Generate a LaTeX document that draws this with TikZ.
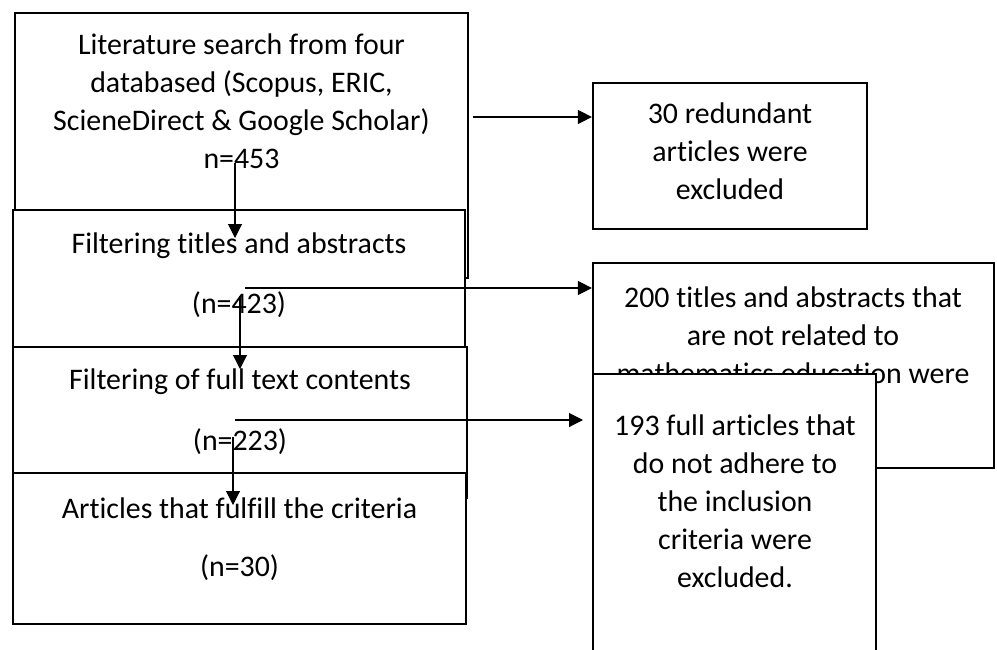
\documentclass[tikz,border=0pt]{standalone}
\usepackage{fontspec}
\setmainfont{Carlito}[Ligatures=NoCommon]
\usetikzlibrary{arrows.meta}
\tikzstyle{box}=[draw,line width=1.3pt,fill=white,inner sep=0pt]
\tikzstyle{lbl}=[align=center,inner sep=0pt,font=\fontsize{17}{21.6}\selectfont]
\tikzstyle{arr}=[line width=0.6pt,-{Triangle[length=2.8mm,width=2.8mm]}]

\begin{document}
\begin{tikzpicture}[x=0.02cm,y=-0.02cm]
\clip (0,0) rectangle (997,649);

% left column
\node[box,minimum width=9.06cm,minimum height=5.30cm] (search) at (241.5,145.5) {};
\node[lbl] (searchtxt) at (241.5,101) {Literature search from four\\databased (Scopus, ERIC,\\ScieneDirect \& Google Scholar)\\n=453};
\node[box,minimum width=9.04cm,minimum height=2.74cm] (titles) at (239,278.5) {};
\node[lbl] (titlestxt) at (239,246) {Filtering titles and abstracts};
\node[lbl] (titlesn) at (239,305) {(n=423)};
\node[box,minimum width=9.08cm,minimum height=3.02cm] (fulltext) at (240,422.5) {};
\node[lbl] (fulltexttxt) at (240,382) {Filtering of full text contents};
\node[lbl] (fulltextn) at (240,442) {(n=223)};
\node[box,minimum width=9.06cm,minimum height=3.02cm] (final) at (239.5,548.5) {};
\node[lbl] (finaltxt) at (239.5,508) {Articles that fulfill the criteria};
\node[lbl] (finaln) at (239.5,568) {(n=30)};

% right column
\node[box,minimum width=5.48cm,minimum height=2.92cm] (redund) at (730,156) {};
\node[lbl] (redundtxt) at (730,151) {30 redundant\\articles were\\excluded};
\node[box,minimum width=8.02cm,minimum height=4.10cm] (notrel) at (793.5,365.5) {};
\node[lbl] (notreltxt) at (793,335) {200 titles and abstracts that\\are not related to\\mathematics education were};
\node[box,minimum width=5.66cm,minimum height=6.12cm] (noadh) at (734.5,527) {};
\node[lbl] (noadhtxt) at (735,501) {193 full articles that\\do not adhere to\\the inclusion\\criteria were\\excluded.};

% arrows
\coordinate (s1) at (473,117);
\coordinate (s2) at (245,288);
\coordinate (s3) at (235,420);
\coordinate (e3) at (583,420);
\draw[arr] (s1) -- (s1 -| redund.west);
\draw[arr] (s2) -- (s2 -| notrel.west);
\draw[arr] (s3) -- (e3);

\coordinate (d1a) at (235,163);
\coordinate (d1b) at (235,238);
\coordinate (d2a) at (240,296);
\coordinate (d2b) at (240,369);
\coordinate (d3a) at (233,437);
\coordinate (d3b) at (233,505);
\draw[arr] (d1a) -- (d1b);
\draw[arr] (d2a) -- (d2b);
\draw[arr] (d3a) -- (d3b);
\end{tikzpicture}
\end{document}
